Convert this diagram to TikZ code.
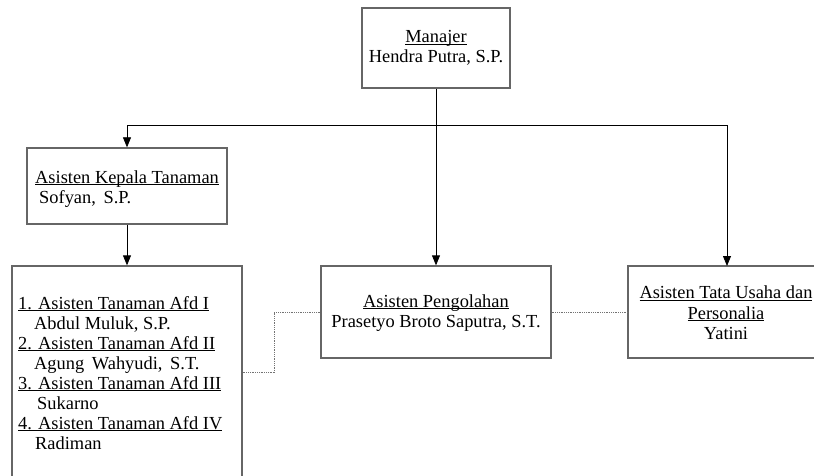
\documentclass[tikz,border=0pt]{standalone}
\usepackage{fontspec}
\setmainfont{Liberation Serif}
\usetikzlibrary{arrows.meta}
\newcommand\myul[1]{\underline{\raisebox{0pt}[\height][0pt]{#1}}}
\begin{document}
\begin{tikzpicture}[x=1pt,y=-1pt,
  box/.style={draw=black!60,line width=1.3pt,fill=white,inner sep=0pt},
  txt/.style={inner sep=0pt,font=\fontsize{18.4}{20.5}\selectfont,align=center},
  ltxt/.style={inner sep=0pt,font=\fontsize{18.4}{20.5}\selectfont,anchor=base west},
  conn/.style={draw=black,line width=0.8pt},
  arr/.style={conn,-{Triangle[length=10pt,width=8pt]}},
  dot/.style={draw=black!55,line width=0.8pt,densely dotted}]
\useasboundingbox (0,0) rectangle (814,476);
\clip (0,0) rectangle (814,476);
% boxes
\node[box,minimum width=148pt,minimum height=80pt] (man) at (436,48) {};
\node[txt] (mant) at (436,48) {\myul{Manajer}\\Hendra Putra, S.P.};
\node[box,minimum width=200pt,minimum height=76pt] (kep) at (127,186) {};
\node[ltxt] (kep1) at (35,183) {\myul{Asisten Kepala Tanaman}};
\node[ltxt] (kep2) at (39,204) {Sofyan,\, S.P.};
\node[box,minimum width=230pt,minimum height=230pt] (afd) at (127,381) {};
\node[ltxt] (a1) at (18,309) {\myul{1. Asisten Tanaman Afd I}};
\node[ltxt] (a2) at (34,329) {Abdul Muluk, S.P.};
\node[ltxt] (a3) at (18,349) {\myul{2. Asisten Tanaman Afd II}};
\node[ltxt] (a4) at (34,369) {Agung\, Wahyudi,\, S.T.};
\node[ltxt] (a5) at (18,389) {\myul{3. Asisten Tanaman Afd III}};
\node[ltxt] (a6) at (37,409) {Sukarno};
\node[ltxt] (a7) at (18,429) {\myul{4. Asisten Tanaman Afd IV}};
\node[ltxt] (a8) at (35,449) {Radiman};
\node[box,minimum width=230pt,minimum height=92pt] (peng) at (436,312) {};
\node[txt] (pengt) at (436,313) {\myul{Asisten Pengolahan}\\Prasetyo Broto Saputra, S.T.};
\node[box,minimum width=210pt,minimum height=92pt] (tu) at (733,312) {};
\node[txt] (tut) at (726,313) {\myul{Asisten Tata Usaha dan}\\\myul{Personalia}\\Yatini};
% connectors
\coordinate (bus) at (436,125);
\coordinate (tuin) at (727,266);
\draw[arr] (man.south) -- (peng.north);
\draw[arr] (bus) -| (kep.north);
\draw[arr] (bus) -| (tuin);
\draw[arr] (kep.south) -- (afd.north);
\draw[dot] (afd.east |- 0,372) -| (274,312) -- (peng.west);
\draw[dot] (peng.east) -- (tu.west);
\end{tikzpicture}
\end{document}
